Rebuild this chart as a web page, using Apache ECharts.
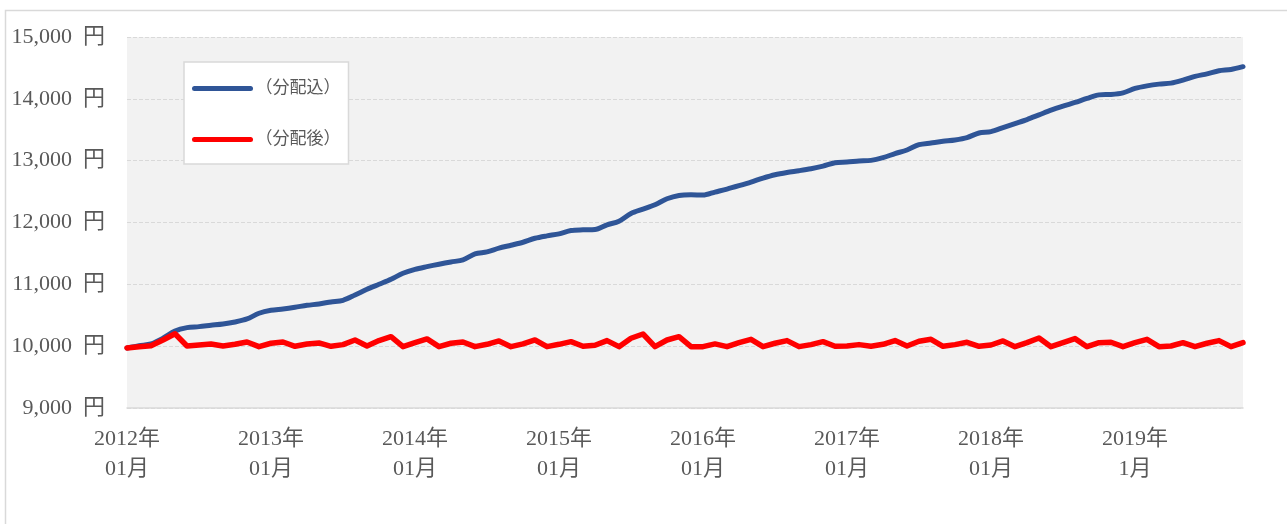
<!DOCTYPE html>
<html>
<head>
<meta charset="utf-8">
<script src="https://cdn.jsdelivr.net/npm/echarts@6/dist/echarts.min.js"></script>
<style>
  html, body { margin: 0; padding: 0; background: #fff; }
  #chart { width: 1287px; height: 524px; }
</style>
</head>
<body>
<div id="chart"></div>
<script>
// 月次の基準価額（2012/01 〜 2019/10）
var months = [
  '2012/01','2012/02','2012/03','2012/04','2012/05','2012/06','2012/07','2012/08','2012/09','2012/10','2012/11','2012/12',
  '2013/01','2013/02','2013/03','2013/04','2013/05','2013/06','2013/07','2013/08','2013/09','2013/10','2013/11','2013/12',
  '2014/01','2014/02','2014/03','2014/04','2014/05','2014/06','2014/07','2014/08','2014/09','2014/10','2014/11','2014/12',
  '2015/01','2015/02','2015/03','2015/04','2015/05','2015/06','2015/07','2015/08','2015/09','2015/10','2015/11','2015/12',
  '2016/01','2016/02','2016/03','2016/04','2016/05','2016/06','2016/07','2016/08','2016/09','2016/10','2016/11','2016/12',
  '2017/01','2017/02','2017/03','2017/04','2017/05','2017/06','2017/07','2017/08','2017/09','2017/10','2017/11','2017/12',
  '2018/01','2018/02','2018/03','2018/04','2018/05','2018/06','2018/07','2018/08','2018/09','2018/10','2018/11','2018/12',
  '2019/01','2019/02','2019/03','2019/04','2019/05','2019/06','2019/07','2019/08','2019/09','2019/10'
];

// x軸に出すラベル
var tickLabels = {
  '2012/01': '2012年\n01月',
  '2013/01': '2013年\n01月',
  '2014/01': '2014年\n01月',
  '2015/01': '2015年\n01月',
  '2016/01': '2016年\n01月',
  '2017/01': '2017年\n01月',
  '2018/01': '2018年\n01月',
  '2019/01': '2019年\n1月'
};

var seriesNames = ['（分配込）', '（分配後）'];

// 分配込
var withDist = [
  9970, 10008, 10036, 10128, 10246, 10300, 10316, 10338, 10359, 10392, 10440, 10532,
  10581, 10602, 10629, 10661, 10683, 10715, 10742, 10828, 10920, 11001, 11082, 11179,
  11243, 11286, 11325, 11362, 11395, 11492, 11524, 11585, 11632, 11681, 11745, 11784,
  11816, 11870, 11881, 11886, 11962, 12021, 12146, 12216, 12287, 12384, 12438, 12449,
  12443, 12492, 12540, 12595, 12653, 12718, 12773, 12810, 12838, 12870, 12912, 12967,
  12978, 12994, 13005, 13049, 13114, 13173, 13259, 13286, 13313, 13335, 13373, 13448,
  13470, 13535, 13600, 13665, 13740, 13816, 13881, 13941, 14006, 14064, 14071, 14097,
  14168, 14210, 14238, 14254, 14302, 14362, 14404, 14453, 14475, 14520
];

// 分配後
var afterDist = [
  9970, 9992, 10008, 10100, 10200, 10003, 10019, 10036, 10003, 10030, 10068, 9992,
  10047, 10068, 9998, 10036, 10052, 9998, 10025, 10100, 10003, 10090, 10154, 9992,
  10057, 10117, 9992, 10047, 10068, 9992, 10030, 10085, 9992, 10036, 10100, 9992,
  10030, 10073, 9998, 10014, 10090, 9992, 10128, 10197, 9992, 10100, 10154, 9992,
  9992, 10036, 9992, 10057, 10111, 9992, 10047, 10090, 9992, 10025, 10073, 9998,
  10003, 10025, 10000, 10030, 10090, 10003, 10079, 10111, 9998, 10025, 10063, 9998,
  10019, 10084, 9992, 10057, 10133, 9992, 10057, 10122, 9992, 10057, 10063, 9992,
  10057, 10111, 9992, 10003, 10057, 9992, 10047, 10090, 9992, 10057
];

var fontSerif = "'Liberation Serif', 'DejaVu Serif', 'Noto Sans CJK JP', serif";

var chart = echarts.init(document.getElementById('chart'));
var option = {
  backgroundColor: '#fff',
  animation: false,
  graphic: [{
    type: 'rect',
    shape: { x: 5.5, y: 10.5, width: 1400, height: 700 },
    style: { fill: 'none', stroke: '#d9d9d9', lineWidth: 1.5 },
    silent: true
  }],
  grid: {
    left: 127,
    right: 44,
    top: 37,
    bottom: 116,
    show: true,
    backgroundColor: '#f2f2f2',
    borderWidth: 0
  },
  legend: {
    orient: 'vertical',
    left: 184,
    top: 62,
    padding: [18, 8, 16, 8],
    itemWidth: 56,
    itemHeight: 14,
    itemGap: 34,
    backgroundColor: '#fff',
    borderColor: '#d9d9d9',
    borderWidth: 1.5,
    itemStyle: { opacity: 0 },
    lineStyle: { width: 5, cap: 'round' },
    textStyle: { fontSize: 17, color: '#595959', fontFamily: fontSerif },
    data: seriesNames
  },
  xAxis: {
    type: 'category',
    data: months,
    boundaryGap: false,
    axisLine: { lineStyle: { color: '#d9d9d9', width: 1.5 } },
    axisTick: { show: false },
    splitLine: { show: false },
    axisLabel: {
      interval: 0,
      margin: 16,
      fontSize: 22,
      lineHeight: 30,
      color: '#595959',
      fontFamily: fontSerif,
      formatter: function (v) { return tickLabels[v] || ''; }
    }
  },
  yAxis: {
    type: 'value',
    min: 9000,
    max: 15000,
    interval: 1000,
    axisLine: { show: false },
    axisTick: { show: false },
    splitLine: { lineStyle: { color: '#d9d9d9', type: 'dashed', width: 1 } },
    axisLabel: {
      margin: 22,
      fontSize: 22,
      color: '#595959',
      fontFamily: fontSerif,
      formatter: function (v) { return v.toLocaleString('en-US') + '  円'; }
    }
  },
  series: [
    {
      name: seriesNames[0],
      type: 'line',
      data: withDist,
      symbol: 'none',
      smooth: 0.3,
      lineStyle: { color: '#2f5597', width: 5, cap: 'round', join: 'round' },
      itemStyle: { color: '#2f5597' }
    },
    {
      name: seriesNames[1],
      type: 'line',
      data: afterDist,
      symbol: 'none',
      lineStyle: { color: '#ff0000', width: 5.5, cap: 'round', join: 'round' },
      itemStyle: { color: '#ff0000' }
    }
  ]
};

chart.setOption(option);
</script>
</body>
</html>
